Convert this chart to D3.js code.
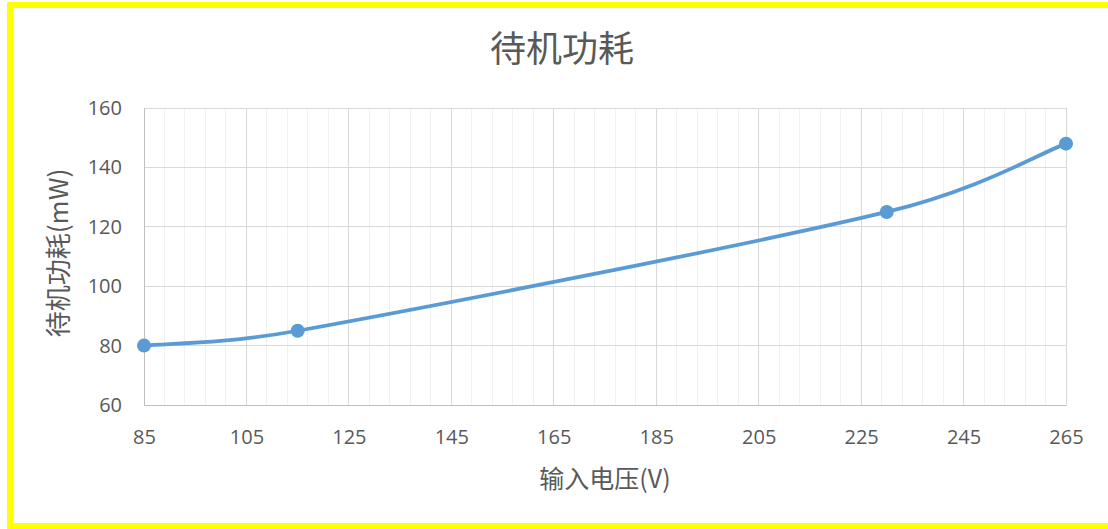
<!DOCTYPE html>
<html><head><meta charset="utf-8">
<script src="https://cdn.jsdelivr.net/npm/d3@7"></script>
<style>body{margin:0;background:#fff;overflow:hidden}svg{display:block}</style>
</head><body>
<svg id="c" width="1108" height="529"></svg>
<script>
const voltages = [85, 115, 230, 265];
const power = [80, 85, 125, 148];
const xTicks = [85, 105, 125, 145, 165, 185, 205, 225, 245, 265];
const yTicks = [60, 80, 100, 120, 140, 160];
const title = "待机功耗";
const xTitle = "输入电压(V)";
const yTitle = "待机功耗(mW)";

const svg = d3.select("#c");
const W = 1108, H = 529;
svg.append("rect").attr("width", W).attr("height", H).attr("fill", "#fff");
svg.append("rect").attr("x", 10).attr("y", 5).attr("width", 1110).attr("height", 521)
  .attr("fill", "none").attr("stroke", "#ffff00").attr("stroke-width", 6);

const x = d3.scaleLinear().domain([85, 265]).range([144, 1066]);
const y = d3.scaleLinear().domain([60, 160]).range([405, 108]);
const textColor = "#595959";
const cjk = "'Noto Sans CJK SC', 'Open Sans', sans-serif";
const num = "'Open Sans', 'Noto Sans', sans-serif";

// minor grid
const minor = d3.range(85, 265.01, 4);
svg.append("g").selectAll("line").data(minor).join("line")
  .attr("x1", d => x(d)).attr("x2", d => x(d)).attr("y1", y(60)).attr("y2", y(160))
  .attr("stroke", "#f0f0f0").attr("stroke-width", 1).attr("shape-rendering", "crispEdges");
// major grid
svg.append("g").selectAll("line").data(xTicks).join("line")
  .attr("x1", d => x(d)).attr("x2", d => x(d)).attr("y1", y(60)).attr("y2", y(160))
  .attr("stroke", "#d9d9d9").attr("stroke-width", 1).attr("shape-rendering", "crispEdges");
svg.append("g").selectAll("line").data(yTicks).join("line")
  .attr("x1", x(85)).attr("x2", x(265)).attr("y1", d => y(d)).attr("y2", d => y(d))
  .attr("stroke", "#d9d9d9").attr("stroke-width", 1).attr("shape-rendering", "crispEdges");

// axes
const xAxis = d3.axisBottom(x).tickValues(xTicks).tickSize(0).tickPadding(25);
const gx = svg.append("g").attr("transform", `translate(0,${y(60)})`).call(xAxis);
gx.select(".domain").attr("stroke", "#bfbfbf");
gx.selectAll("text").attr("fill", textColor).style("font-family", num).style("font-size", "20px");

const yAxis = d3.axisLeft(y).tickValues(yTicks).tickSize(0).tickPadding(22);
const gy = svg.append("g").attr("transform", `translate(${x(85)},0)`).call(yAxis);
gy.select(".domain").attr("stroke", "#bfbfbf");
gy.selectAll("text").attr("fill", textColor).style("font-family", num).style("font-size", "20px");

// Excel-style smoothed line (Bezier with tangent capped at half segment length)
const P = voltages.map((v, i) => [x(v), y(power[i])]);
function dist(a, b) { return Math.hypot(b[0] - a[0], b[1] - a[1]); }
const path = d3.path();
path.moveTo(P[0][0], P[0][1]);
for (let i = 0; i < P.length - 1; i++) {
  const p0 = P[Math.max(0, i - 1)], p1 = P[i], p2 = P[i + 1], p3 = P[Math.min(P.length - 1, i + 2)];
  const d12 = dist(p1, p2), d02 = dist(p0, p2), d13 = dist(p1, p3);
  const f1 = d02 > 0 ? Math.min(1 / 6, d12 / (2 * d02)) : 0;
  const f2 = d13 > 0 ? Math.min(1 / 6, d12 / (2 * d13)) : 0;
  path.bezierCurveTo(
    p1[0] + (p2[0] - p0[0]) * f1, p1[1] + (p2[1] - p0[1]) * f1,
    p2[0] - (p3[0] - p1[0]) * f2, p2[1] - (p3[1] - p1[1]) * f2,
    p2[0], p2[1]);
}
svg.append("path").attr("d", path.toString()).attr("fill", "none")
  .attr("stroke", "#5b9bd5").attr("stroke-width", 3.8).attr("stroke-linecap", "round");
svg.append("g").selectAll("circle").data(voltages).join("circle")
  .attr("cx", d => x(d)).attr("cy", (d, i) => y(power[i])).attr("r", 7).attr("fill", "#5b9bd5");

// titles
svg.append("text").attr("x", 562).attr("y", 62).attr("text-anchor", "middle")
  .attr("fill", textColor).style("font-family", cjk).style("font-size", "36px").text(title);
svg.append("text").attr("x", 605).attr("y", 488).attr("text-anchor", "middle")
  .attr("fill", textColor).style("font-family", cjk).style("font-size", "25px").text(xTitle);
svg.append("text").attr("transform", "translate(68,253) rotate(-90)").attr("text-anchor", "middle")
  .attr("fill", textColor).style("font-family", cjk).style("font-size", "26px").text(yTitle);
</script>
</body></html>
